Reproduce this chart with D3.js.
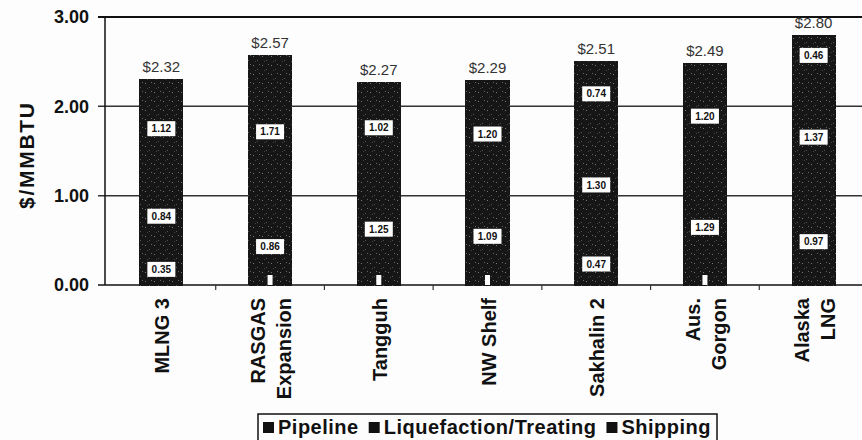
<!DOCTYPE html>
<meta charset="utf-8">
<style>
    body { margin: 0; background: #fdfdfd; }
    svg { font-family: "Liberation Sans", Arial, sans-serif; }
    .ylab { font-size: 18px; font-weight: bold; fill: #111; }
    .xlab { font-size: 20px; font-weight: bold; fill: #111; }
    .total { font-size: 15px; fill: #333; text-anchor: middle; }
    .seg text { font-size: 10px; font-weight: bold; text-anchor: middle; fill: #111; }
    .legend text { font-size: 20px; font-weight: bold; fill: #111; letter-spacing: 0.5px; }
</style>
<svg></svg>
<script src="https://d3js.org/d3.v7.min.js"></script>
<script>

    var projects = ["MLNG 3", "RASGAS Expansion", "Tangguh", "NW Shelf", "Sakhalin 2", "Aus. Gorgon", "Alaska LNG"];
    var projectLines = [["MLNG 3"], ["RASGAS", "Expansion"], ["Tangguh"], ["NW Shelf"], ["Sakhalin 2"], ["Aus.", "Gorgon"], ["Alaska", "LNG"]];
    var pipeline = [0.35, 0, 0, 0, 0.47, 0, 0.97];
    var liquefaction = [0.84, 0.86, 1.25, 1.09, 1.30, 1.29, 1.37];
    var shipping = [1.12, 1.71, 1.02, 1.20, 0.74, 1.20, 0.46];
    var totals = ["$2.32", "$2.57", "$2.27", "$2.29", "$2.51", "$2.49", "$2.80"];
    var seriesNames = ["Pipeline", "Liquefaction/Treating", "Shipping"];
    var yTicks = [0, 1, 2, 3];

    var width = 862,
        height = 440;

    var svg = d3.select("svg")
        .attr("width", width)
        .attr("height", height);

    // speckled fill like the scanned bars
    var pat = svg.append("defs").append("pattern")
        .attr("id", "speck")
        .attr("width", 9).attr("height", 9)
        .attr("patternUnits", "userSpaceOnUse");
    pat.append("rect").attr("width", 9).attr("height", 9).attr("fill", "#161616");
    [[1, 2, "#777"], [5, 6, "#555"], [7, 1, "#666"], [3, 7, "#444"]].forEach(function (p) {
        pat.append("rect").attr("x", p[0]).attr("y", p[1]).attr("width", 1).attr("height", 1).attr("fill", p[2]);
    });

    var data = projects.map(function (p, i) {
        return { name: p, lines: projectLines[i], Pipeline: pipeline[i], "Liquefaction/Treating": liquefaction[i], Shipping: shipping[i], total: totals[i] };
    });

    var x = d3.scaleBand()
        .domain(projects)
        .range([107, 868])
        .paddingInner(0.595)
        .paddingOuter(0.2975);

    var y = d3.scaleLinear()
        .domain([0, 3])
        .range([285, 17]);

    var stack = d3.stack().keys(seriesNames)(data);

    // gridlines and frame
    svg.append("g")
        .selectAll("line")
        .data(yTicks)
        .enter().append("line")
        .attr("x1", 98).attr("x2", width)
        .attr("y1", function (d) { return y(d); })
        .attr("y2", function (d) { return y(d); })
        .attr("stroke", function (d) { return d === 0 || d === 3 ? "#111" : "#333"; })
        .attr("stroke-width", function (d) { return d === 3 ? 2 : 1.5; });

    svg.append("line")
        .attr("x1", 105).attr("x2", 105)
        .attr("y1", y(3)).attr("y2", y(0))
        .attr("stroke", "#111").attr("stroke-width", 1.5);

    // x ticks between categories
    svg.append("g")
        .selectAll("line")
        .data(projects.slice(1))
        .enter().append("line")
        .attr("x1", function (d) { return x(d) - x.step() * x.paddingInner() / 2; })
        .attr("x2", function (d) { return x(d) - x.step() * x.paddingInner() / 2; })
        .attr("y1", y(0)).attr("y2", y(0) + 5)
        .attr("stroke", "#333").attr("stroke-width", 1.2);

    svg.append("g")
        .selectAll("text")
        .data(yTicks)
        .enter().append("text")
        .attr("class", "ylab")
        .attr("x", 89)
        .attr("y", function (d) { return y(d); })
        .attr("dy", "0.35em")
        .attr("text-anchor", "end")
        .text(function (d) { return d.toFixed(2); });

    svg.append("text")
        .attr("class", "ylab")
        .attr("transform", "translate(34,156) rotate(-90)")
        .attr("text-anchor", "middle")
        .style("font-size", "21px")
        .attr("textLength", 106)
        .attr("lengthAdjust", "spacing")
        .text("$/MMBTU");

    // bars
    var layer = svg.append("g").selectAll("g")
        .data(stack)
        .enter().append("g");

    layer.selectAll("rect")
        .data(function (d) { return d; })
        .enter().append("rect")
        .attr("x", function (d) { return x(d.data.name); })
        .attr("y", function (d) { return y(d[1]); })
        .attr("width", x.bandwidth())
        .attr("height", function (d) { return y(d[0]) - y(d[1]) + 0.5; })
        .attr("fill", "url(#speck)")
        .attr("shape-rendering", "crispEdges");

    // zero segments leave a small white notch at the foot of the bar
    svg.append("g")
        .selectAll("rect")
        .data(data.filter(function (d) { return d.Pipeline === 0; }))
        .enter().append("rect")
        .attr("x", function (d) { return x(d.name) + x.bandwidth() / 2 - 2.5; })
        .attr("y", y(0) - 10)
        .attr("width", 5).attr("height", 10)
        .attr("fill", "#fdfdfd");

    // segment value labels
    stack.forEach(function (s) {
        var seg = svg.append("g").attr("class", "seg")
            .selectAll("g")
            .data(s.filter(function (d) { return d[1] - d[0] > 0; }))
            .enter().append("g")
            .attr("transform", function (d) {
                return "translate(" + (x(d.data.name) + x.bandwidth() / 2) + "," + y((d[0] + d[1]) / 2) + ")";
            });
        seg.append("rect")
            .attr("x", -14).attr("y", -7.5)
            .attr("width", 28).attr("height", 15)
            .attr("fill", "#fff");
        seg.append("text")
            .attr("dy", "0.36em")
            .text(function (d) { return (d[1] - d[0]).toFixed(2); });
    });

    svg.append("g")
        .selectAll("text")
        .data(data)
        .enter().append("text")
        .attr("class", "total")
        .attr("x", function (d) { return x(d.name) + x.bandwidth() / 2; })
        .attr("y", function (d) { return y(d.Pipeline + d["Liquefaction/Treating"] + d.Shipping) - 7; })
        .text(function (d) { return d.total; });

    // rotated category labels
    var xl = svg.append("g")
        .selectAll("text")
        .data(data)
        .enter().append("text")
        .attr("class", "xlab")
        .attr("text-anchor", "end")
        .attr("transform", function (d) {
            var c = x(d.name) + x.bandwidth() / 2 + 8 - (d.lines.length - 1) * 13;
            return "translate(" + c + ",298) rotate(-90)";
        });
    xl.selectAll("tspan")
        .data(function (d) { return d.lines; })
        .enter().append("tspan")
        .attr("x", 0)
        .attr("dy", function (d, i) { return i ? 26 : 0; })
        .text(function (d) { return d; });

    // legend
    var lg = svg.append("g").attr("class", "legend");
    var box = lg.append("rect")
        .attr("y", 414).attr("height", 30)
        .attr("fill", "none").attr("stroke", "#111").attr("stroke-width", 1.5);
    var cx = 263;
    seriesNames.forEach(function (n) {
        lg.append("rect").attr("x", cx).attr("y", 422).attr("width", 11).attr("height", 11).attr("fill", "#111");
        var t = lg.append("text").attr("x", cx + 15).attr("y", 434).text(n);
        cx += 15 + t.node().getComputedTextLength() + 10;
    });
    box.attr("x", 258).attr("width", cx - 258 - 4);

</script>
